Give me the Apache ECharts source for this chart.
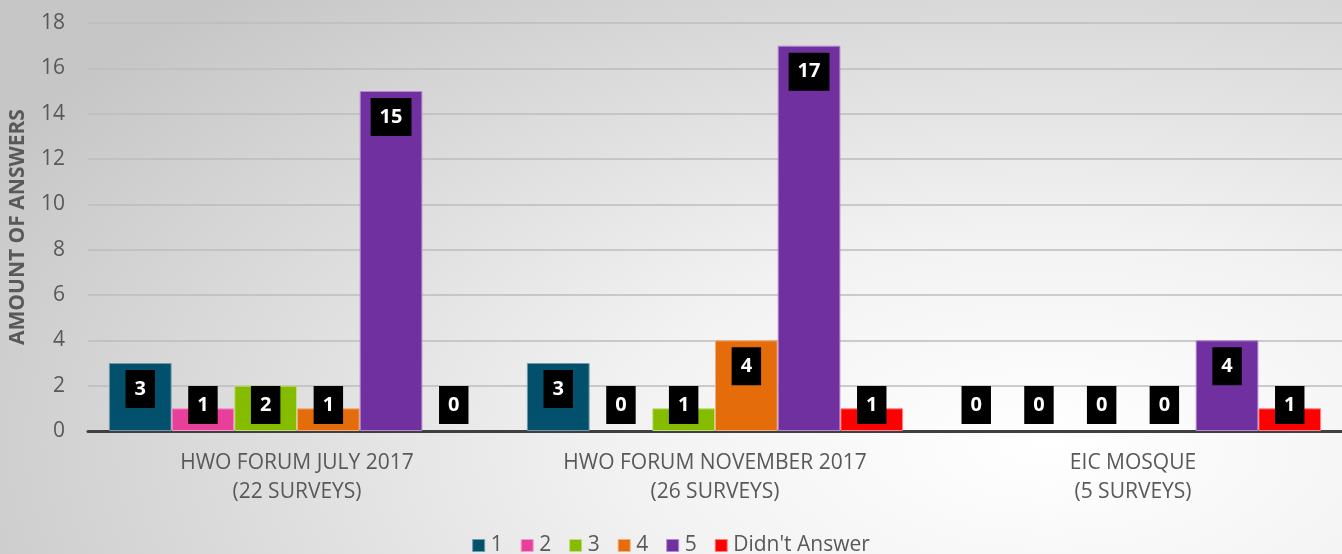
<!DOCTYPE html>
<html>
<head>
<meta charset="utf-8">
<script src="https://cdn.jsdelivr.net/npm/echarts@6/dist/echarts.min.js"></script>
<style>
html,body{margin:0;padding:0;}
body{background: radial-gradient(ellipse 90% 110% at 78% 80%, #ffffff 0%, #f2f2f2 35%, #c6c6c6 100%);}
#c{width:1342px;height:554px;}
</style>
</head>
<body>
<div id="c"></div>
<script>
const categories = ['HWO FORUM JULY 2017\n(22 SURVEYS)', 'HWO FORUM NOVEMBER 2017\n(26 SURVEYS)', 'EIC MOSQUE\n(5 SURVEYS)'];
const seriesNames = ['1', '2', '3', '4', '5', "Didn't Answer"];
const s1 = [3, 3, 0];
const s2 = [1, 0, 0];
const s3 = [2, 1, 0];
const s4 = [1, 4, 0];
const s5 = [15, 17, 4];
const sNA = [0, 1, 1];
const yTicks = {min: 0, max: 18, interval: 2};

const colors = ['#02506C', '#E8409A', '#86BC00', '#E46C0A', '#7030A0', '#FF0000'];
const borders = ['#6f9aab', '#f39ac8', '#c0dd7a', '#f2ae7a', '#b48ad0', '#ff8080'];
const allData = [s1, s2, s3, s4, s5, sNA];
const FONT = '"Open Sans"';

const chart = echarts.init(document.getElementById('c'), null, {renderer: 'canvas'});
const series = allData.map((d, i) => ({
  name: seriesNames[i],
  type: 'bar',
  data: d.map(v => v === 0 ? {value: v, itemStyle: {borderWidth: 0, borderColor: 'transparent', color: 'transparent'}} : v),
  barGap: '0%',
  barCategoryGap: '10%',
  itemStyle: {color: colors[i], borderColor: borders[i], borderWidth: 1},
  label: {
    show: true,
    position: 'insideTop',
    distance: 7,
    color: '#ffffff',
    fontWeight: 'bold',
    fontSize: 20,
    fontFamily: FONT,
    backgroundColor: '#000000',
    padding: [8, 9, 8, 9],
    lineHeight: 22
  },
  labelLayout: function (p) {
    const axisY = p.rect.y + p.rect.height;
    const desiredTop = Math.min(p.rect.y + 7, axisY - 7 - p.labelRect.height);
    return {dy: desiredTop - p.labelRect.y};
  }
}));

chart.setOption({
  backgroundColor: 'transparent',
  animation: false,
  textStyle: {fontFamily: FONT},
  grid: {left: 88, right: 0, top: 23, bottom: 123, containLabel: false, outerBoundsMode: 'none'},
  legend: {
    data: seriesNames.map((n, i) => ({name: n, itemStyle: {color: colors[i], borderColor: borders[i], borderWidth: 1}})),
    top: 530,
    left: 'center',
    icon: 'rect',
    itemWidth: 12,
    itemHeight: 12,
    itemGap: 18,
    textStyle: {fontSize: 21, color: '#595959', fontFamily: FONT, padding: [0, 0, 0, 1]}
  },
  xAxis: {
    type: 'category',
    data: categories,
    axisLine: {lineStyle: {color: '#404040', width: 3}},
    axisTick: {show: false},
    axisLabel: {fontSize: 21, color: '#595959', lineHeight: 29, margin: 18, fontFamily: FONT}
  },
  yAxis: {
    type: 'value',
    min: yTicks.min,
    max: yTicks.max,
    interval: yTicks.interval,
    name: 'AMOUNT OF ANSWERS',
    nameLocation: 'middle',
    nameRotate: 90,
    nameGap: 59,
    nameTextStyle: {fontSize: 21, fontWeight: 'bold', color: '#595959', fontFamily: FONT},
    axisLine: {show: false},
    axisTick: {show: false},
    axisLabel: {fontSize: 21, color: '#595959', margin: 23, fontFamily: FONT},
    splitLine: {lineStyle: {color: '#bcbcbc', width: 1.5}}
  },
  series: series
});
</script>
</body>
</html>
